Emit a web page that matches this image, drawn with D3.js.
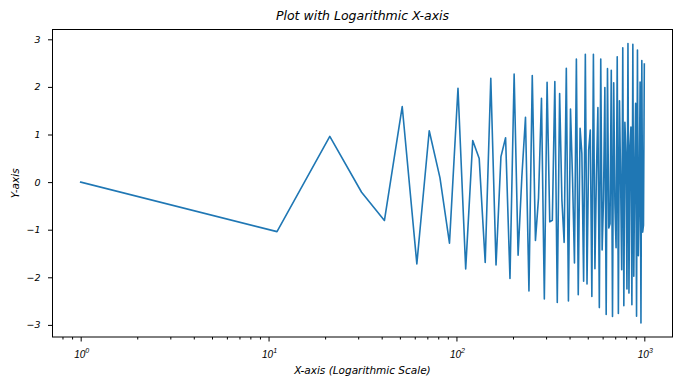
<!DOCTYPE html>
<html>
<head>
<meta charset="utf-8">
<script src="https://cdn.jsdelivr.net/npm/d3@7"></script>
<style>
  html, body { margin: 0; padding: 0; background: #fff; }
  svg { display: block; font-family: 'DejaVu Sans', sans-serif; font-style: italic; }
</style>
</head>
<body>
<div id="chart" style="width:681px;height:386px"></div>
<script>
// sample positions (x) and the plotted values (y)
const xValues = [
  1, 11.09, 21.18, 31.27, 41.36, 51.45, 61.55, 71.64, 81.73, 91.82,
  101.91, 112, 122.09, 132.18, 142.27, 152.36, 162.45, 172.55, 182.64, 192.73,
  202.82, 212.91, 223, 233.09, 243.18, 253.27, 263.36, 273.45, 283.55, 293.64,
  303.73, 313.82, 323.91, 334, 344.09, 354.18, 364.27, 374.36, 384.45, 394.55,
  404.64, 414.73, 424.82, 434.91, 445, 455.09, 465.18, 475.27, 485.36, 495.45,
  505.55, 515.64, 525.73, 535.82, 545.91, 556, 566.09, 576.18, 586.27, 596.36,
  606.45, 616.55, 626.64, 636.73, 646.82, 656.91, 667, 677.09, 687.18, 697.27,
  707.36, 717.45, 727.55, 737.64, 747.73, 757.82, 767.91, 778, 788.09, 798.18,
  808.27, 818.36, 828.45, 838.55, 848.64, 858.73, 868.82, 878.91, 889, 899.09,
  909.18, 919.27, 929.36, 939.45, 949.55, 959.64, 969.73, 979.82, 989.91, 1000
];
const yValues = [
  0, -1.0402, 0.9597, -0.2134, -0.8073, 1.5882, -1.7173, 1.0783, 0.0877, -1.2827,
  1.9711, -1.8238, 0.8722, 0.4937, -1.6880, 2.1829, -1.7430, 0.5364, 0.9304, -2.0260,
  2.2676, -1.5338, 0.1246, 1.3622, -2.2852, 2.2370, -1.2240, -0.3304, 1.7630, -2.4548,
  2.0986, -0.8352, -0.8017, 2.1116, -2.5272, 1.8607, -0.3879, -1.2655, 2.3903, -2.4981,
  1.5340, 0.0970, -1.6995, 2.5850, -2.3676, 1.1323, 0.5980, -2.0839, 2.6859, -2.1394,
  0.6714, 1.0940, -2.4013, 2.6865, -1.8213, 0.1698, 1.5640, -2.6369, 2.5850, -1.4245,
  -0.3529, 1.9883, -2.7797, 2.3834, -0.9635, -0.8762, 2.3491, -2.8221, 2.0877, -0.4554,
  -1.3794, 2.6311, -2.7606, 1.7078, 0.0811, -1.8426, 2.8217, -2.5958, 1.2569, 0.6257,
  -2.2473, 2.9123, -2.3322, 0.7510, 1.1576, -2.5771, 2.8976, -1.9782, 0.2084, 1.6567,
  -2.8183, 2.7767, -1.5458, -0.3510, 2.1035, -2.9606, 2.5525, -1.0501, -0.9064, 2.4807
];
const xMajorTicks = [1, 10, 100, 1000];
const xMajorExponents = ['0', '1', '2', '3'];
const xMinorTicks = [0.8, 0.9, 2, 3, 4, 5, 6, 7, 8, 9, 20, 30, 40, 50, 60, 70, 80, 90,
  200, 300, 400, 500, 600, 700, 800, 900];
const yTicks = [-3, -2, -1, 0, 1, 2, 3];

const width = 681;
const height = 386;
const margin = { top: 29.5, right: 8.5, bottom: 49, left: 52.5 };
const innerWidth = width - margin.left - margin.right;
const innerHeight = height - margin.top - margin.bottom;

const svg = d3.select('#chart').append('svg')
  .attr('width', width).attr('height', height);
const g = svg.append('g').attr('transform', `translate(${margin.left},${margin.top})`);

// matplotlib style 5% padding, x padding measured in log decades
const lx = d3.extent(xValues).map(Math.log10);
const padX = (lx[1] - lx[0]) * 0.05;
const x = d3.scaleLog()
  .domain([Math.pow(10, lx[0] - padX), Math.pow(10, lx[1] + padX)])
  .range([0, innerWidth]);
const ye = d3.extent(yValues);
const padY = (ye[1] - ye[0]) * 0.05;
const y = d3.scaleLinear().domain([ye[0] - padY, ye[1] + padY]).range([innerHeight, 0]);

const points = xValues.map((v, i) => [v, yValues[i]]);
const line = d3.line().x((d) => x(d[0])).y((d) => y(d[1]));

g.append('path')
  .datum(points)
  .attr('d', line)
  .attr('fill', 'none')
  .attr('stroke', '#1f77b4')
  .attr('stroke-width', 1.6)
  .attr('stroke-linejoin', 'round')
  .attr('stroke-linecap', 'square');

// x axis: major ticks with 10^n labels, minor ticks without labels
const xAxis = g.append('g').attr('transform', `translate(0,${innerHeight})`);
xAxis.call(d3.axisBottom(x).tickValues(xMajorTicks).tickSize(4.5).tickFormat(''));
xAxis.append('g').call(d3.axisBottom(x).tickValues(xMinorTicks).tickSize(2.5).tickFormat(''));
xAxis.selectAll('.domain').remove();
xAxis.selectAll('line').attr('stroke', '#000').attr('stroke-width', 1);

const xLabels = xAxis.selectAll('text.xl').data(xMajorTicks).join('text')
  .attr('class', 'xl')
  .attr('x', (d) => x(d) + 1)
  .attr('y', 20.5)
  .attr('text-anchor', 'middle')
  .attr('font-size', 10)
  .attr('fill', '#000');
xLabels.append('tspan').text('10');
xLabels.append('tspan')
  .attr('dy', -4.5)
  .attr('font-size', 7)
  .text((d, i) => xMajorExponents[i]);

// y axis
const yAxis = g.append('g');
yAxis.call(d3.axisLeft(y).tickValues(yTicks).tickSize(4.5).tickPadding(7.5)
  .tickFormat((d) => (d < 0 ? '\u2212' + Math.abs(d) : String(d))));
yAxis.select('.domain').remove();
yAxis.selectAll('line').attr('stroke', '#000').attr('stroke-width', 1);
yAxis.selectAll('text').attr('font-size', 9.5).attr('fill', '#000')
  .attr('font-family', "'DejaVu Sans', sans-serif");

// frame
g.append('rect')
  .attr('width', innerWidth).attr('height', innerHeight)
  .attr('fill', 'none').attr('stroke', '#000').attr('stroke-width', 1);

svg.append('text')
  .attr('x', margin.left + innerWidth / 2)
  .attr('y', 19.5)
  .attr('text-anchor', 'middle')
  .attr('font-size', 12.5)
  .attr('fill', '#000')
  .text('Plot with Logarithmic X-axis');

svg.append('text')
  .attr('x', margin.left + innerWidth / 2)
  .attr('y', 373.5)
  .attr('text-anchor', 'middle')
  .attr('font-size', 10.5)
  .attr('fill', '#000')
  .text('X-axis (Logarithmic Scale)');

svg.append('text')
  .attr('transform', `translate(18.5,${margin.top + innerHeight / 2}) rotate(-90)`)
  .attr('text-anchor', 'middle')
  .attr('font-size', 10.5)
  .attr('fill', '#000')
  .text('Y-axis');
</script>
</body>
</html>
